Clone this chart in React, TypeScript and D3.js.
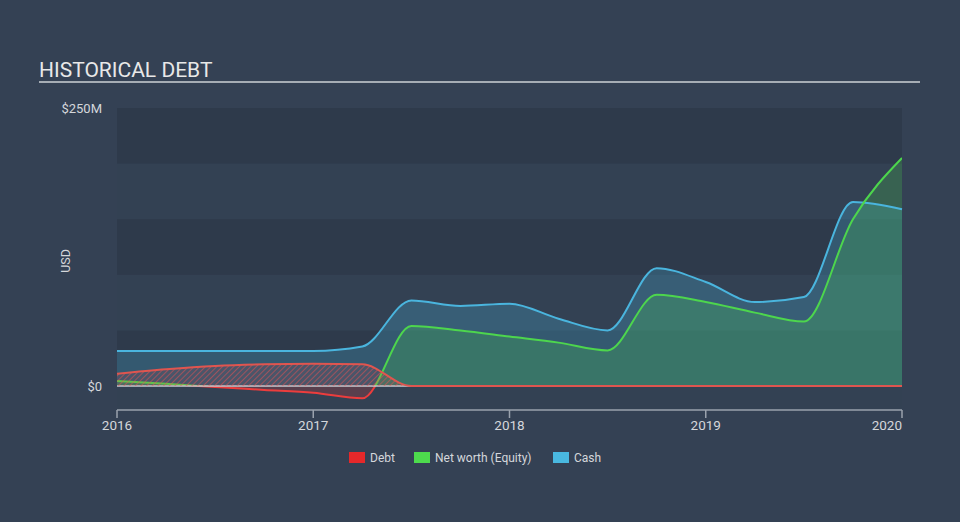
import React from "react";
import * as d3 from "d3";

const dates = [2016.0, 2016.25, 2016.5, 2016.75, 2017.0, 2017.25, 2017.5, 2017.75, 2018.0, 2018.25, 2018.5, 2018.75, 2019.0, 2019.25, 2019.5, 2019.75, 2020.0];
const debt = [11, 15, 18, 19.5, 20, 19.5, 0, 0, 0, 0, 0, 0, 0, 0, 0, 0, 0];
const equity = [4.5, 2, -1, -3.5, -6, -11, 54, 50, 44.5, 39, 32, 82, 75.5, 66, 58, 150, 205];
const cash = [31.5, 31.5, 31.5, 31.5, 31.5, 35.5, 77, 72, 74, 60.5, 50, 106, 93.5, 75.5, 80, 165.5, 159];
const yearTicks = [2016, 2017, 2018, 2019, 2020];
const yTickValues = [0, 250];
const yTickLabels = ["$0", "$250M"];
const legendItems = ["Debt", "Net worth (Equity)", "Cash"];

const W = 960, H = 522;
const left = 117, right = 902, top = 108, zeroY = 386, axisY = 410;

export default function App() {
  const x = d3.scaleLinear().domain([2016, 2020]).range([left, right]);
  const y = d3.scaleLinear().domain([0, 250]).range([zeroY, top]);
  const idx = dates.map((_, i) => i);
  const curve = d3.curveMonotoneX;

  const areaOf = (vals: number[]) =>
    d3.area<number>().x((i) => x(dates[i])).y0(y(0)).y1((i) => y(vals[i])).curve(curve)(idx) || "";
  const lineOf = (vals: number[]) =>
    d3.line<number>().x((i) => x(dates[i])).y((i) => y(vals[i])).curve(curve)(idx) || "";

  const bands = d3.range(0, 250, 50);
  const font = "Roboto, 'Open Sans', sans-serif";
  const legendColors = ["#e5282a", "#4ddb4d", "#49b8e0"];
  const legendX = [349, 414, 553];

  return (
    <svg width={W} height={H} style={{ position: "absolute", left: 0, top: 0 }} fontFamily={font}>
      <defs>
        <clipPath id="above">
          <rect x={left} y={0} width={right - left} height={zeroY} />
        </clipPath>
        <clipPath id="below">
          <rect x={left} y={zeroY} width={right - left} height={H - zeroY} />
        </clipPath>
        <pattern id="hatch" width="4" height="4" patternUnits="userSpaceOnUse" patternTransform="rotate(45)">
          <rect width="4" height="4" fill="rgba(229,60,60,0.12)" />
          <line x1="0" y1="0" x2="0" y2="4" stroke="rgba(235,80,80,0.8)" strokeWidth="1.3" />
        </pattern>
      </defs>
      <rect x={0} y={0} width={W} height={H} fill="#344154" />
      {bands.map((b, i) => (
        <rect
          key={b}
          x={left}
          y={y(b + 50)}
          width={right - left}
          height={y(b) - y(b + 50)}
          fill={i % 2 === 0 ? "#2e3a4b" : "#334153"}
        />
      ))}
      <rect x={left} y={zeroY} width={right - left} height={axisY - zeroY} fill="#334153" />

      <text x={39} y={77} fontSize={21} fill="#e8e8e8">HISTORICAL DEBT</text>
      <line x1={39} x2={920} y1={82} y2={82} stroke="#a6adb5" strokeWidth={2} />

      {yTickValues.map((v, i) => (
        <text key={v} x={102} y={y(v) + 4.5} fontSize={13} fill="#d4d7db" textAnchor="end">{yTickLabels[i]}</text>
      ))}
      <text transform={`translate(70,${261}) rotate(-90)`} fontSize={12.5} fill="#d4d7db" textAnchor="middle">USD</text>

      <path d={areaOf(cash)} fill="rgba(73,184,224,0.25)" />
      <g clipPath="url(#above)">
        <path d={areaOf(equity)} fill="rgba(77,219,77,0.22)" />
      </g>
      <g clipPath="url(#below)">
        <path d={areaOf(equity)} fill="rgba(229,60,60,0.22)" />
      </g>
      <path d={lineOf(cash)} fill="none" stroke="#4ab5de" strokeWidth={2} />
      <g clipPath="url(#above)">
        <path d={lineOf(equity)} fill="none" stroke="#4dd64d" strokeWidth={2} />
      </g>
      <g clipPath="url(#below)">
        <path d={lineOf(equity)} fill="none" stroke="#ec3d3d" strokeWidth={2} />
      </g>
      <line x1={left} x2={right} y1={zeroY} y2={zeroY} stroke="#c9cdd2" strokeWidth={1.5} />
      <path d={areaOf(debt)} fill="url(#hatch)" />
      <path d={lineOf(debt)} fill="none" stroke="#e0554f" strokeWidth={2} />

      <line x1={left} x2={right} y1={axisY} y2={axisY} stroke="#9aa2ad" strokeWidth={1.5} />
      {yearTicks.map((t, i) => (
        <g key={t}>
          <line x1={x(t)} x2={x(t)} y1={axisY} y2={axisY + 8} stroke="#9aa2ad" strokeWidth={1.5} />
          <text
            x={x(t)}
            y={430}
            fontSize={13.5}
            fill="#d4d7db"
            textAnchor={i === yearTicks.length - 1 ? "end" : "middle"}
          >
            {t}
          </text>
        </g>
      ))}

      {legendItems.map((name, i) => (
        <g key={name}>
          <rect x={legendX[i]} y={452} width={16} height={11} fill={legendColors[i]} />
          <text x={legendX[i] + 21} y={462} fontSize={12} fill="#d4d7db">{name}</text>
        </g>
      ))}
    </svg>
  );
}
